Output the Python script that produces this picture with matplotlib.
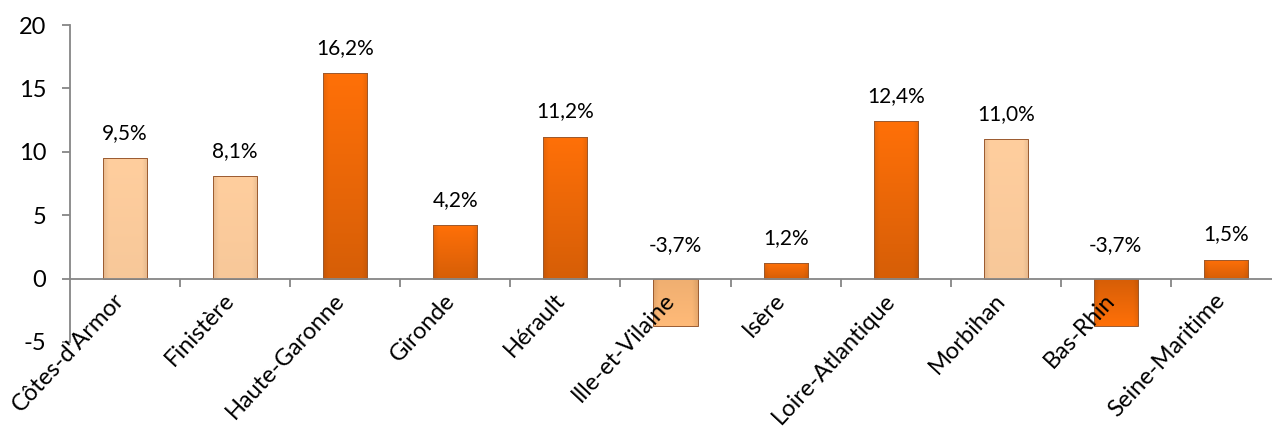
import numpy as np
import matplotlib
matplotlib.use('Agg')
import matplotlib.pyplot as plt
from matplotlib.colors import to_rgb

# data
departements = ["Côtes-d'Armor", 'Finistère', 'Haute-Garonne', 'Gironde', 'Hérault',
                'Ille-et-Vilaine', 'Isère', 'Loire-Atlantique', 'Morbihan', 'Bas-Rhin',
                'Seine-Maritime']
evolution = [9.5, 8.1, 16.2, 4.2, 11.2, -3.7, 1.2, 12.4, 11.0, -3.7, 1.5]
bretagne = [True, True, False, False, False, True, False, False, True, False, False]
yticks = [-5, 0, 5, 10, 15, 20]

plt.rcParams['font.family'] = ['Lato', 'DejaVu Sans']

light = np.array(to_rgb('#FFCE9E'))
dark = np.array(to_rgb('#FF7008'))


def bar_image(base, negative, drop):
    """small rgb array: darker at the sides and towards the bottom"""
    u = np.linspace(0, 1, 40)
    v = np.linspace(0, 1, 60)[:, None]   # 0 = bottom row of extent
    side = 1 - 0.08 * np.clip(1 - np.minimum(u, 1 - u) / 0.12, 0, 1)
    if negative:
        vert = 1 - drop * v
    else:
        vert = 1 - drop * (1 - v)
    img = base[None, None, :] * (side[None, :, None] * vert[:, :, None])
    return np.clip(img, 0, 1)


fig = plt.figure(figsize=(12.72, 4.32), dpi=100)
ax = fig.add_axes([70/1272, 1-342/432, 1211/1272, (342-25)/432])

x = np.arange(len(departements))
bars = ax.bar(x, evolution, width=0.4, color='none', edgecolor='#9A5A30', linewidth=0.7, zorder=3)

for b, br, v in zip(bars, bretagne, evolution):
    x0, y0 = b.get_x(), b.get_y()
    w, h = b.get_width(), b.get_height()
    if br and v < 0:
        img = bar_image(np.array(to_rgb('#FFBA78')), True, 0.06)
    elif br:
        img = bar_image(light, False, 0.03)
    else:
        img = bar_image(dark, v < 0, 0.16)
    im = ax.imshow(img, aspect='auto', origin='lower',
                   extent=(x0, x0 + w, min(y0, y0 + h), max(y0, y0 + h)),
                   zorder=2, interpolation='bilinear')
    im.set_clip_path(b)

for xi, v in zip(x, evolution):
    lab = ('%.1f%%' % v).replace('.', ',')
    if v >= 0:
        ax.annotate(lab, (xi, v), xytext=(0, 18), textcoords='offset points',
                    ha='center', va='center', fontsize=15)
    else:
        ax.annotate(lab, (xi, 0), xytext=(0, 24), textcoords='offset points',
                    ha='center', va='center', fontsize=15)

ax.set_xlim(-0.5, len(departements) - 0.5)
ax.set_ylim(-5, 20)
ax.set_yticks(yticks)
ax.set_yticklabels([str(t) for t in yticks], fontsize=17)

ax.spines['top'].set_visible(False)
ax.spines['right'].set_visible(False)
ax.spines['bottom'].set_position(('data', 0))
for s in ['left', 'bottom']:
    ax.spines[s].set_color('#868686')
    ax.spines[s].set_linewidth(1.3)
    ax.spines[s].set_zorder(4)

ax.tick_params(axis='y', direction='out', length=6, width=1.3, color='#868686', pad=11)
ax.set_xticks(x + 0.03)
ax.set_xticklabels(departements, rotation=47, ha='right', va='top', fontsize=17)
ax.tick_params(axis='x', which='major', length=0, pad=8)
ax.set_xticks(np.arange(0.5, len(departements) - 0.5), minor=True)
ax.tick_params(axis='x', which='minor', direction='out', length=6, width=1.3, color='#868686')
ax.xaxis.set_zorder(5)

fig.savefig('out.png', dpi=100)
